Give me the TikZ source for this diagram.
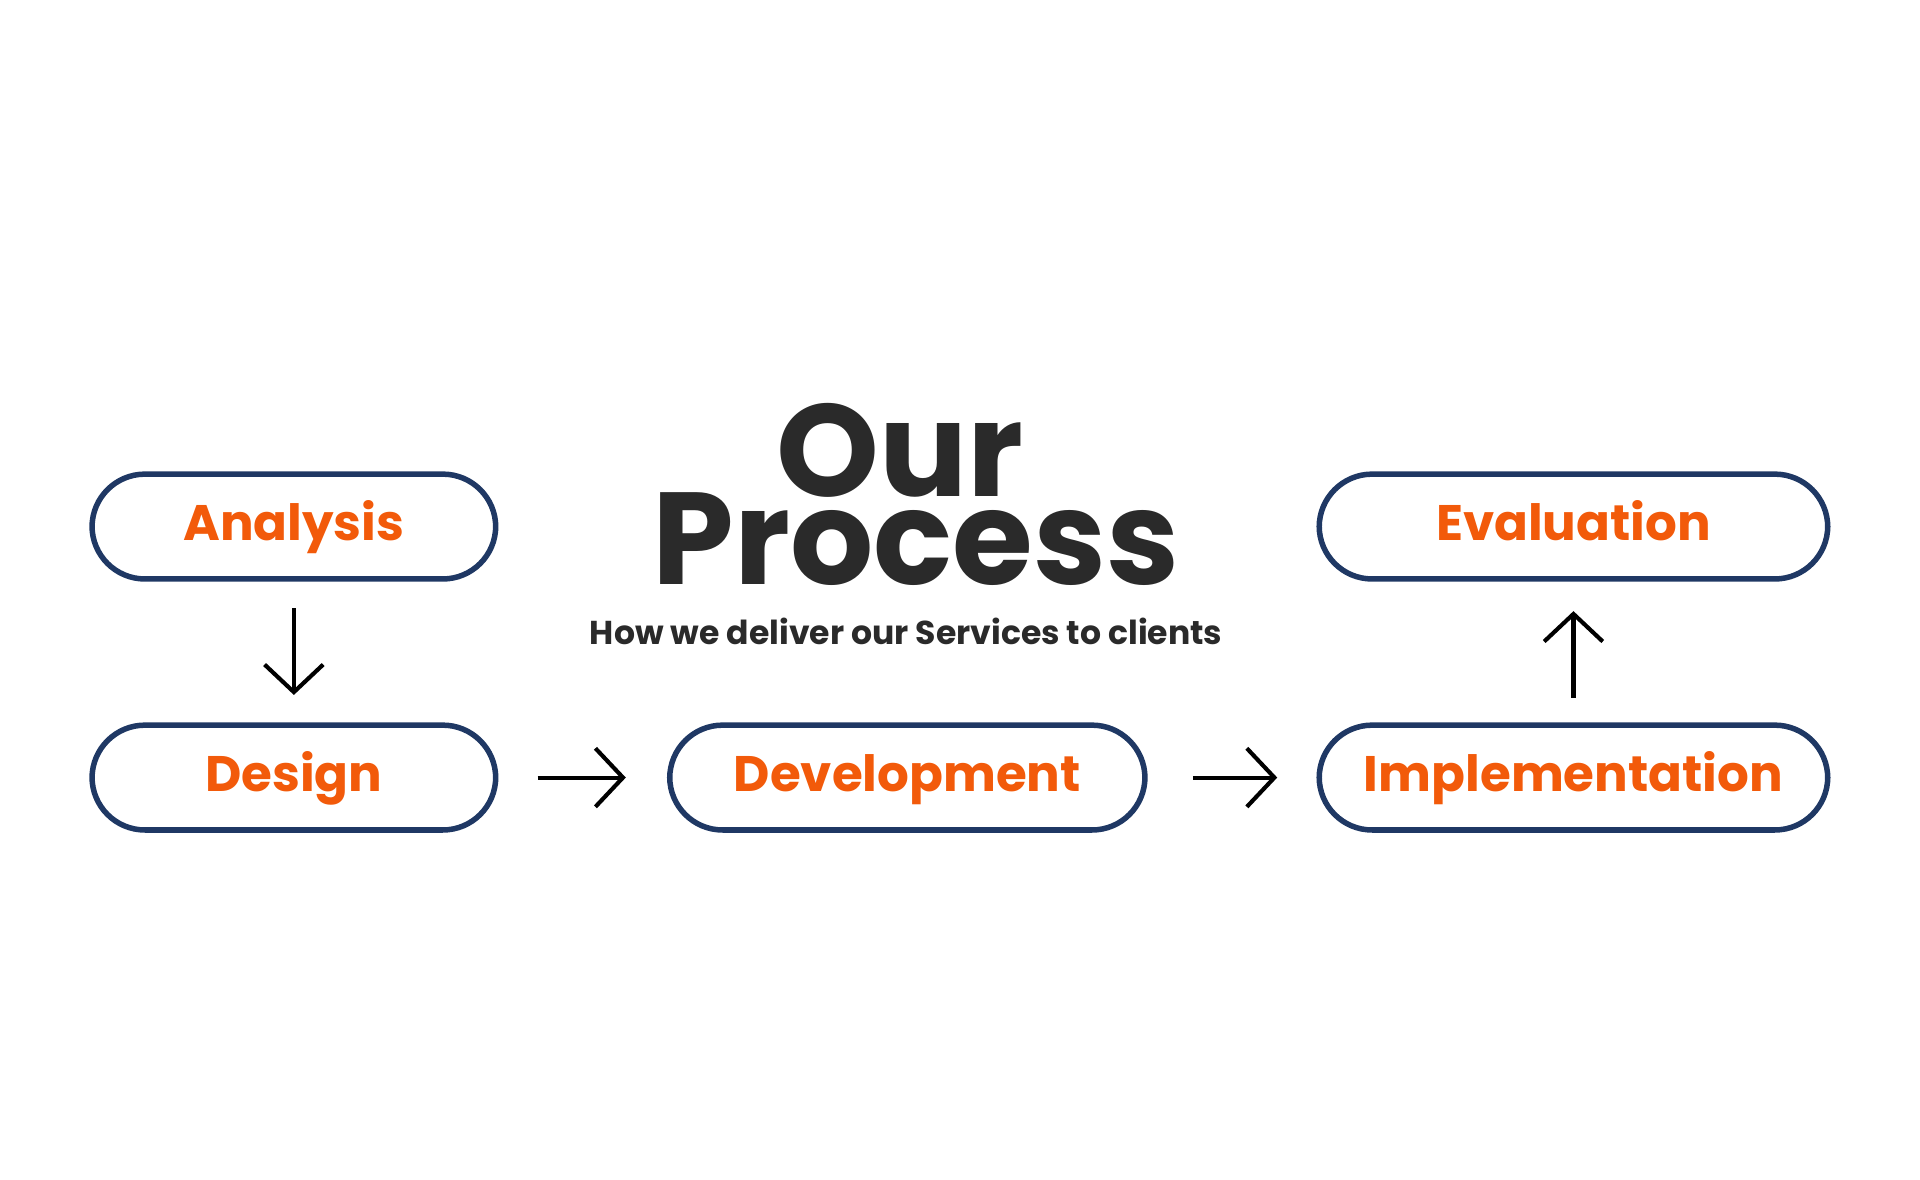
\documentclass[tikz,border=0pt]{standalone}
\usepackage{fontspec}
\setmainfont{Poppins}
\usepackage{tikz}
\usetikzlibrary{positioning,arrows.meta}
\definecolor{stageOrange}{HTML}{F25A0A}
\definecolor{stageNavy}{HTML}{1F3864}
\definecolor{titleGray}{HTML}{2A2A2A}

\begin{document}
\begin{tikzpicture}[x=0.0125cm, y=-0.0125cm,
    stage/.style={draw=stageNavy, line width=1.6pt, rounded corners=0.54cm,
        minimum height=1.07cm, text=stageOrange, text height=1.6ex, text depth=0.1ex,
        font=\fontsize{14.5}{16}\selectfont\bfseries},
    headline/.style={text=titleGray, inner sep=0pt, font=\fontsize{38}{38}\selectfont\bfseries},
    flow/.style={->, line width=1.2pt, >={Straight Barb[length=8pt, width=17pt]}}]
    % Frame
    \useasboundingbox (0,0) rectangle (1568,963);

    % Stages
    \node[stage, minimum width=4.12cm] (analysis) at (240,430) {Analysis};
    \node[stage, minimum width=4.12cm] (design) at (240,635) {Design};
    \node[stage, minimum width=4.85cm] (development) at (741,635) {Development};
    \node[stage, minimum width=5.19cm] (implementation) at (1285,635) {Implementation};
    \node[stage, minimum width=5.19cm] (evaluation) at (1285,430) {Evaluation};

    % Title
    \node[headline] (our) at (735,368) {Our};
    \node[headline] (process) at (748,440) {Process};
    \node[text=titleGray, inner sep=1pt, font=\fontsize{9.6}{11}\selectfont\bfseries] (subtitle) at (740,516) {How we deliver our Services to clients};

    % Arrows
    \draw[flow] ([yshift=-0.27cm]analysis.south) -- ([yshift=0.28cm]design.north);
    \draw[flow] ([xshift=0.4cm]design.east) -- ([xshift=-0.42cm]development.west);
    \draw[flow] ([xshift=0.46cm]development.east) -- ([xshift=-0.4cm]implementation.west);
    \draw[flow] ([yshift=0.25cm]implementation.north) -- ([yshift=-0.3cm]evaluation.south);
\end{tikzpicture}
\end{document}
